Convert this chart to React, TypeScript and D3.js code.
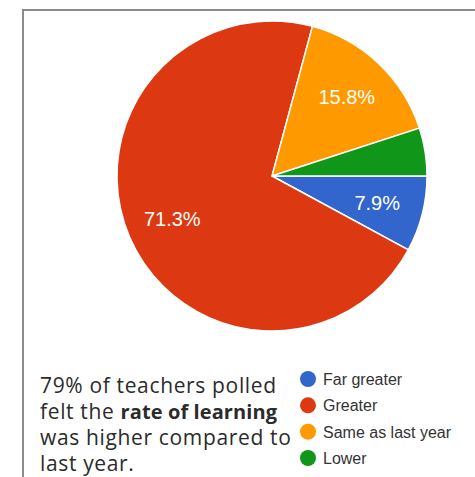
import React from "react";
import * as d3 from "d3";

const categories = ["Far greater", "Greater", "Same as last year", "Lower"];
const values = [7.9, 71.3, 15.8, 5.0];
const labels = ["7.9%", "71.3%", "15.8%", ""];
const colors = ["#3366cc", "#dc3912", "#ff9900", "#109618"];
const captionLines: { text: string; bold?: boolean }[][] = [
  [{ text: "79% of teachers polled" }],
  [{ text: "felt the " }, { text: "rate of learning", bold: true }],
  [{ text: "was higher compared to" }],
  [{ text: "last year." }],
];

const W = 475;
const H = 477;
const cx = 272;
const cy = 176;
const R = 155;

export default function App() {
  const pie = d3
    .pie<number>()
    .sort(null)
    .startAngle(Math.PI / 2)
    .endAngle(Math.PI / 2 + 2 * Math.PI);
  const arcs = pie(values);
  const arc = d3.arc<d3.PieArcDatum<number>>().innerRadius(0).outerRadius(R);
  const labelArc = d3
    .arc<d3.PieArcDatum<number>>()
    .innerRadius(R * 0.7)
    .outerRadius(R * 0.7);

  const legendY = d3.scalePoint<string>().domain(categories).range([379, 458]);
  const lineY = d3.scaleLinear().domain([0, captionLines.length - 1]).range([393, 471]);

  return (
    <svg
      width={W}
      height={H}
      style={{ position: "absolute", left: 0, top: 0, background: "#ffffff" }}
    >
      <line x1={23} y1={10} x2={W} y2={10} stroke="#8c8c8c" strokeWidth={2} />
      <line x1={23} y1={9} x2={23} y2={H} stroke="#8c8c8c" strokeWidth={2} />
      <g transform={`translate(${cx},${cy})`}>
        {arcs.map((a, i) => (
          <path key={i} d={arc(a) || ""} fill={colors[i]} stroke="#ffffff" strokeWidth={1.5} />
        ))}
        {arcs.map((a, i) => {
          const [x, y] = labelArc.centroid(a);
          return (
            <text
              key={"l" + i}
              x={x}
              y={y + 7}
              textAnchor="middle"
              fontFamily="Liberation Sans, Arial, sans-serif"
              fontSize={20}
              fill="#ffffff"
            >
              {labels[i]}
            </text>
          );
        })}
      </g>
      {captionLines.map((line, i) => (
        <text
          key={"c" + i}
          x={40}
          y={lineY(i)}
          fontFamily="Open Sans, sans-serif"
          fontSize={21}
          fill="#2b2b2b"
        >
          {line.map((s, j) => (
            <tspan
              key={j}
              fontWeight={s.bold ? 700 : 400}
              fontSize={s.bold ? 20 : 21}
              letterSpacing={s.bold ? 0.1 : 0.65}
            >
              {s.text}
            </tspan>
          ))}
        </text>
      ))}
      {categories.map((c, i) => (
        <g key={"g" + i} transform={`translate(0,${legendY(c)})`}>
          <circle cx={308} cy={0} r={8} fill={colors[i]} />
          <text
            x={323}
            y={6}
            fontFamily="Liberation Sans, Arial, sans-serif"
            fontSize={16}
            fill="#333333"
          >
            {c}
          </text>
        </g>
      ))}
    </svg>
  );
}
